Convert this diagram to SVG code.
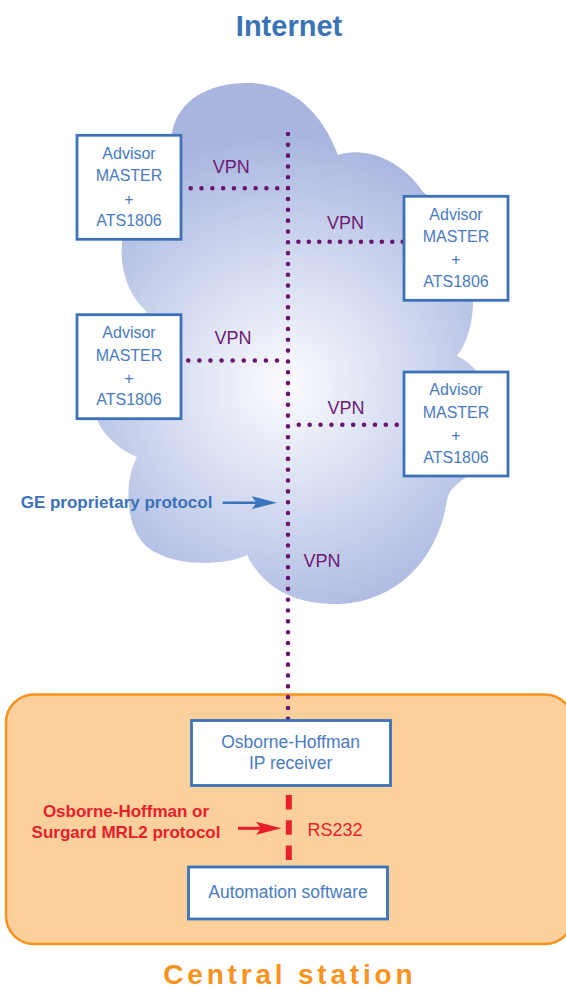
<svg xmlns="http://www.w3.org/2000/svg" width="566" height="991" viewBox="0 0 566 991">
<style>
.box{fill:#ffffff;stroke:#3e72b8;stroke-width:2.8}
.bt{font-family:"Liberation Sans",Arial,sans-serif;font-size:16px;fill:#4a7bc0;text-anchor:middle}
.ct{font-family:"Liberation Sans",Arial,sans-serif;font-size:17.5px;fill:#4a7bc0;text-anchor:middle}
.vpn{font-family:"Liberation Sans",Arial,sans-serif;font-size:18px;fill:#6d1a72;text-anchor:middle}
.dot{stroke:#6a1470;stroke-width:4.6;stroke-linecap:round;fill:none}
.lbl{font-family:"Liberation Sans",Arial,sans-serif;font-size:17px;font-weight:bold}
</style>
<defs>
<radialGradient id="cg" gradientUnits="userSpaceOnUse" cx="285" cy="385" r="250">
<stop offset="0" stop-color="#fcfcff"/>
<stop offset="0.55" stop-color="#cfd7ef"/>
<stop offset="1" stop-color="#a8b6df"/>
</radialGradient>
</defs>
<rect width="566" height="991" fill="#ffffff"/>
<text x="289" y="36" font-family="Liberation Sans,Arial,sans-serif" font-size="29" font-weight="bold" fill="#3b73b9" text-anchor="middle">Internet</text>
<g id="cloud">
<path fill="url(#cg)" d="M172,133 C178,98 212,82 250,83 C292,84 322,112 338,155 C365,146 402,160 423,192 C452,212 476,250 473,302 C473,320 468,342 457,356 C470,362 482,372 488,400 C496,440 482,470 465,478 C455,485 449,490 447,500 C438,560 395,604 335,604 C290,604 262,585 247,555 C225,566 170,568 145,545 C125,525 124,480 137,457 C110,445 85,420 95,380 C100,350 120,325 147,312 C128,295 120,270 122,245 C125,200 150,150 172,133 Z"/>
</g>
<g id="central-station">
<rect x="6" y="694.5" width="567" height="249.5" rx="28" fill="#fbd09d" stroke="#f6921e" stroke-width="2.5"/>
</g>
<g id="connectors">
<line class="dot" x1="288" y1="134" x2="288" y2="719.5" stroke-dasharray="0 10.83"/>
<line class="dot" x1="277.2" y1="188.3" x2="190" y2="188.3" stroke-dasharray="0 10.81"/>
<line class="dot" x1="298.4" y1="241.7" x2="403.5" y2="241.7" stroke-dasharray="0 10.43"/>
<line class="dot" x1="277" y1="360.5" x2="187.5" y2="360.5" stroke-dasharray="0 11.09"/>
<line class="dot" x1="298.8" y1="424.8" x2="397.5" y2="424.8" stroke-dasharray="0 10.88"/>
<line x1="288.8" y1="795" x2="288.8" y2="860" stroke="#e8202a" stroke-width="6" stroke-dasharray="14.5 10.8"/>
<line x1="222.7" y1="502.7" x2="258" y2="502.7" stroke="#3a75bb" stroke-width="2.6"/>
<path d="M277,502.7 L251.7,496.2 L256.5,502.7 L251.7,509.2 Z" fill="#3a75bb"/>
<line x1="238" y1="828.3" x2="262" y2="828.3" stroke="#e8202a" stroke-width="3"/>
<path d="M281.6,828.3 L256,821.8 L261,828.3 L256,834.8 Z" fill="#e8202a"/>
</g>
<g id="vpn-labels">
<text class="vpn" x="231.3" y="172.7">VPN</text>
<text class="vpn" x="345.5" y="229">VPN</text>
<text class="vpn" x="233" y="344">VPN</text>
<text class="vpn" x="346" y="413.6">VPN</text>
<text class="vpn" x="322" y="567">VPN</text>
</g>
<g id="advisor1">
<rect class="box" x="77" y="135.3" width="104" height="104"/>
<text class="bt" x="129" y="159">Advisor</text>
<text class="bt" x="129" y="181">MASTER</text>
<text class="bt" x="129" y="204.5">+</text>
<text class="bt" x="129" y="226">ATS1806</text>
</g>
<g id="advisor2">
<rect class="box" x="404" y="196.3" width="104" height="104"/>
<text class="bt" x="456" y="219.5">Advisor</text>
<text class="bt" x="456" y="242.3">MASTER</text>
<text class="bt" x="456" y="265">+</text>
<text class="bt" x="456" y="286.7">ATS1806</text>
</g>
<g id="advisor3">
<rect class="box" x="77" y="314.7" width="104" height="104"/>
<text class="bt" x="129" y="337.5">Advisor</text>
<text class="bt" x="129" y="361">MASTER</text>
<text class="bt" x="129" y="383.5">+</text>
<text class="bt" x="129" y="404.5">ATS1806</text>
</g>
<g id="advisor4">
<rect class="box" x="404" y="372" width="104" height="104"/>
<text class="bt" x="456" y="395.2">Advisor</text>
<text class="bt" x="456" y="417.7">MASTER</text>
<text class="bt" x="456" y="440.5">+</text>
<text class="bt" x="456" y="462.7">ATS1806</text>
</g>
<text class="lbl" x="20.7" y="508.3" fill="#3a73b9">GE proprietary protocol</text>
<g id="receiver">
<rect class="box" x="191.5" y="720.5" width="199" height="65"/>
<text class="ct" x="290.6" y="747.7">Osborne-Hoffman</text>
<text class="ct" x="290.6" y="769.3">IP receiver</text>
</g>
<g id="automation">
<rect class="box" x="188.5" y="867" width="199" height="52"/>
<text class="ct" x="288" y="898.3">Automation software</text>
</g>
<text x="307.6" y="836" font-family="Liberation Sans,Arial,sans-serif" font-size="18" fill="#e8202a">RS232</text>
<text class="lbl" x="126" y="816.7" fill="#e8202a" text-anchor="middle">Osborne-Hoffman or</text>
<text class="lbl" x="126" y="838.3" fill="#e8202a" text-anchor="middle">Surgard MRL2 protocol</text>
<text x="289.8" y="984" font-family="Liberation Sans,Arial,sans-serif" font-size="28" font-weight="bold" letter-spacing="3.8" fill="#f7931e" text-anchor="middle">Central station</text>
</svg>
